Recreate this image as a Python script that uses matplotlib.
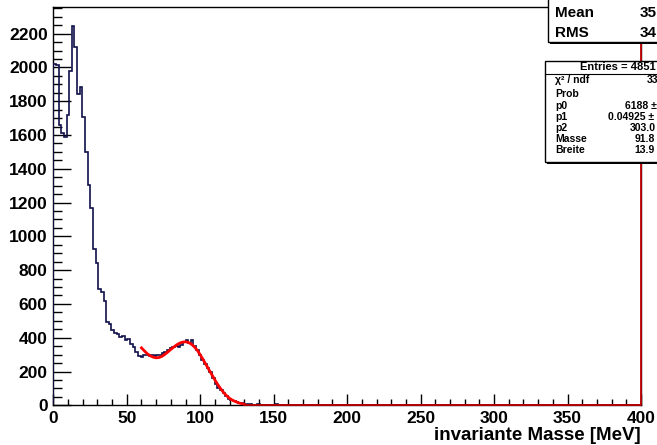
import numpy as np
import matplotlib
matplotlib.use("Agg")
import matplotlib.pyplot as plt
from matplotlib.patches import Rectangle
from matplotlib.ticker import MultipleLocator

plt.rcParams["font.family"] = ["Liberation Sans", "DejaVu Sans"]
plt.rcParams["font.weight"] = "bold"

# histogram: 1.8 MeV bins starting at 0
bin_width = 1.8
counts = [
    2020, 2015, 1659, 1612, 1588, 1718, 1981, 2245, 2119, 1841,
    1886, 1705, 1502, 1306, 1170, 927, 844, 688, 673, 617,
    495, 480, 445, 430, 420, 405, 410, 385, 390, 365,
    345, 318, 290, 285, 298, 300, 292, 300, 290, 295,
    300, 310, 318, 327, 337, 347, 351, 345, 357, 377,
    385, 371, 385, 351, 327, 300, 268, 245, 219, 195,
    160, 125, 105, 88, 70, 55, 40, 33, 27, 20,
    15, 12, 8, 6, 5, 4, 3, 5, 4, 3,
    2, 4, 3, 2, 5, 3, 2, 4, 2, 3,
    1, 2, 4, 1, 0, 2, 0, 0, 0, 0,
    0, 2, 2,
]

# fit curve (MeV, counts)
fit_x = [60, 62, 64, 66, 68, 70, 72, 74, 76, 78, 80, 82, 84, 86, 88, 90,
         92, 94, 96, 98, 100, 102, 104, 106, 108, 110, 112, 114, 116, 118,
         120, 122, 124, 126, 128, 130]
fit_y = [340, 322, 305, 293, 285, 281, 283, 290, 302, 316, 331, 345, 358,
         368, 374, 376, 372, 362, 346, 325, 299, 270, 240, 210, 180, 150,
         122, 97, 75, 56, 41, 30, 22, 15, 10, 7]

stats_top = [("Mean", "35"), ("RMS", "34")]
stats_header = "Entries = 4851"
stats_fit = [("χ² / ndf", "33"), ("Prob", ""), ("p0", "6188 ±"),
             ("p1", "0.04925 ±"), ("p2", "303.0"), ("Masse", "91.8"),
             ("Breite", "13.9")]

W, H = 657, 445
fig = plt.figure(figsize=(W / 100, H / 100), dpi=100)
x0, x1, ytop, ybot = 53.3, 641, 7.3, 405.3
ax = fig.add_axes([x0 / W, (H - ybot) / H, (x1 - x0) / W, (ybot - ytop) / H])

nb = 222
vals = np.zeros(nb)
vals[:len(counts)] = counts
edges = np.arange(nb + 1) * bin_width
ax.stairs(vals, edges, color="#10104a", linewidth=1.2, zorder=3)
ax.plot(fit_x, fit_y, color="#ff0000", linewidth=2, zorder=4)
# fit function drawn over full range outside the fit window
ax.plot([fit_x[-1], 400, 400], [0, 0, 2356], color="#c00000", linewidth=1.3,
        zorder=5, clip_on=False)

ax.set_xlim(0, 400)
ax.set_ylim(0, 2356)
ax.xaxis.set_major_locator(MultipleLocator(50))
ax.xaxis.set_minor_locator(MultipleLocator(10))
ax.yaxis.set_major_locator(MultipleLocator(200))
ax.yaxis.set_minor_locator(MultipleLocator(50))
ax.tick_params(axis="x", which="major", direction="in", length=8, width=1,
               labelsize=12.5, pad=4)
ax.tick_params(axis="x", which="minor", direction="in", length=4, width=1)
ax.tick_params(axis="y", which="major", direction="in", length=12.6, width=1,
               labelsize=12.5, pad=4)
ax.tick_params(axis="y", which="minor", direction="in", length=6.2, width=1)
for s in ax.spines.values():
    s.set_linewidth(1)
ax.set_xlabel("invariante Masse [MeV]", fontsize=13.5, fontweight="bold",
              loc="right", labelpad=1)


def fx(x):
    return x / W


def fy(y):
    return 1 - y / H


def box(xl, yt, yb):
    sh = Rectangle((fx(xl + 2), fy(yb + 2)), fx(120), (yb - yt) / H,
                   transform=fig.transFigure, facecolor="black",
                   edgecolor="none", zorder=10)
    bx = Rectangle((fx(xl), fy(yb)), fx(120), (yb - yt) / H,
                   transform=fig.transFigure, facecolor="white",
                   edgecolor="black", linewidth=1, zorder=11)
    fig.patches.extend([sh, bx])


box(548, -5, 42)
for (name, val), y in zip(stats_top, [13, 33]):
    fig.text(fx(555), fy(y), name, fontsize=11, va="center", zorder=12)
    fig.text(fx(640), fy(y), val, fontsize=11, va="center", zorder=12)

box(545, 61, 162)
fig.text(fx(580), fy(67), stats_header, fontsize=8, va="center", zorder=12)
fig.add_artist(plt.Line2D([fx(545), fx(657)], [fy(74), fy(74)],
                          color="black", linewidth=0.8, zorder=12))
row_y = [80, 94, 106, 117, 128, 139, 150]
val_x = [647, 0, 625, 608, 630, 635, 634]
for (name, val), y, vx in zip(stats_fit, row_y, val_x):
    fig.text(fx(555), fy(y), name, fontsize=7.5, va="center", zorder=12)
    if val:
        fig.text(fx(vx), fy(y), val, fontsize=7.5, va="center", zorder=12)

fig.savefig("out.png", dpi=100)
